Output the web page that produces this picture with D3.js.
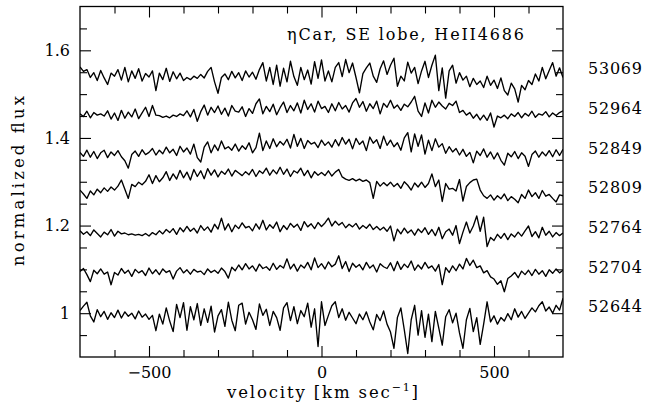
<!DOCTYPE html>
<html>
<head>
<meta charset="utf-8">
<script src="https://cdn.jsdelivr.net/npm/d3@7"></script>
<style>
  body { margin: 0; background: #fff; }
</style>
</head>
<body>
<div id="chart"></div>
<script>
// Spectra sampled every 10 km/s from -700 to 700 km/s
const velStart = -700
const velStep = 10

// Epoch (MJD) of each spectrum, top to bottom
const epochs = ["53069", "52964", "52849", "52809", "52764", "52704", "52644"]

const flux53069 = [
  1.562,1.552,1.556,1.538,1.549,1.531,1.554,1.537,1.522,1.548,
  1.541,1.556,1.532,1.561,1.528,1.553,1.536,1.558,1.530,1.547,
  1.539,1.553,1.508,1.548,1.533,1.559,1.529,1.551,1.535,1.548,
  1.531,1.538,1.533,1.541,1.536,1.545,1.537,1.552,1.561,1.528,
  1.502,1.538,1.546,1.533,1.552,1.537,1.549,1.531,1.553,1.539,
  1.550,1.534,1.556,1.572,1.530,1.561,1.522,1.566,1.518,1.559,
  1.528,1.575,1.540,1.520,1.561,1.533,1.555,1.523,1.574,1.536,
  1.578,1.530,1.553,1.528,1.561,1.572,1.540,1.579,1.549,1.571,
  1.538,1.503,1.547,1.560,1.571,1.541,1.527,1.558,1.576,1.545,
  1.566,1.582,1.518,1.541,1.530,1.573,1.548,1.561,1.524,1.553,
  1.575,1.538,1.566,1.589,1.508,1.560,1.491,1.553,1.566,1.525,
  1.549,1.532,1.541,1.517,1.536,1.522,1.530,1.515,1.541,1.520,
  1.532,1.513,1.537,1.508,1.498,1.525,1.512,1.482,1.520,1.510,
  1.531,1.522,1.546,1.530,1.561,1.535,1.554,1.572,1.541,1.560,
  1.538]

const flux52964 = [
  1.455,1.449,1.461,1.446,1.458,1.452,1.455,1.450,1.462,1.443,
  1.457,1.440,1.463,1.445,1.459,1.448,1.466,1.444,1.457,1.470,
  1.449,1.474,1.452,1.451,1.447,1.450,1.446,1.452,1.449,1.455,
  1.451,1.462,1.448,1.465,1.438,1.460,1.475,1.452,1.470,1.458,
  1.473,1.454,1.468,1.450,1.474,1.461,1.459,1.471,1.449,1.467,
  1.456,1.478,1.489,1.455,1.472,1.460,1.477,1.453,1.469,1.482,
  1.458,1.474,1.462,1.480,1.457,1.486,1.465,1.478,1.459,1.484,
  1.467,1.472,1.458,1.478,1.462,1.481,1.466,1.474,1.459,1.480,
  1.490,1.470,1.483,1.461,1.478,1.467,1.484,1.455,1.479,1.470,
  1.486,1.468,1.475,1.463,1.477,1.471,1.482,1.495,1.461,1.449,
  1.480,1.457,1.486,1.470,1.482,1.473,1.466,1.479,1.474,1.484,
  1.458,1.463,1.452,1.458,1.445,1.454,1.441,1.452,1.440,1.457,
  1.425,1.450,1.446,1.452,1.444,1.455,1.449,1.458,1.446,1.456,
  1.450,1.461,1.447,1.455,1.452,1.460,1.448,1.457,1.451,1.458,
  1.462]

const flux52849 = [
  1.367,1.358,1.372,1.356,1.369,1.353,1.366,1.372,1.355,1.368,
  1.360,1.371,1.357,1.348,1.331,1.362,1.370,1.358,1.373,1.362,
  1.367,1.376,1.361,1.372,1.364,1.379,1.366,1.374,1.360,1.381,
  1.368,1.377,1.363,1.386,1.355,1.345,1.379,1.391,1.366,1.384,
  1.371,1.393,1.375,1.380,1.372,1.386,1.370,1.382,1.374,1.389,
  1.366,1.378,1.411,1.371,1.393,1.376,1.398,1.380,1.392,1.384,
  1.397,1.377,1.408,1.381,1.399,1.376,1.394,1.386,1.390,1.378,
  1.395,1.383,1.391,1.379,1.396,1.382,1.401,1.386,1.397,1.375,
  1.399,1.385,1.393,1.371,1.402,1.388,1.396,1.376,1.404,1.383,
  1.395,1.380,1.389,1.372,1.400,1.412,1.368,1.409,1.381,1.407,
  1.363,1.395,1.371,1.398,1.379,1.387,1.365,1.380,1.368,1.376,
  1.361,1.374,1.358,1.367,1.343,1.370,1.360,1.375,1.356,1.368,
  1.352,1.366,1.349,1.338,1.365,1.357,1.369,1.353,1.366,1.358,
  1.335,1.362,1.370,1.356,1.368,1.359,1.371,1.357,1.373,1.360,
  1.374]

const flux52809 = [
  1.281,1.272,1.262,1.279,1.270,1.283,1.275,1.286,1.278,1.288,
  1.281,1.290,1.304,1.283,1.262,1.294,1.289,1.299,1.293,1.301,
  1.316,1.296,1.314,1.300,1.309,1.323,1.303,1.318,1.306,1.326,
  1.309,1.322,1.304,1.328,1.312,1.325,1.307,1.330,1.315,1.327,
  1.311,1.324,1.317,1.329,1.313,1.326,1.320,1.314,1.323,1.316,
  1.328,1.312,1.325,1.319,1.331,1.315,1.327,1.318,1.333,1.317,
  1.329,1.312,1.325,1.320,1.331,1.314,1.326,1.309,1.323,1.315,
  1.321,1.314,1.325,1.313,1.322,1.328,1.311,1.306,1.303,1.307,
  1.302,1.306,1.301,1.304,1.298,1.262,1.301,1.290,1.298,1.291,
  1.299,1.289,1.296,1.285,1.300,1.292,1.281,1.297,1.288,1.299,
  1.287,1.296,1.318,1.289,1.304,1.255,1.296,1.283,1.285,1.279,
  1.305,1.256,1.289,1.298,1.304,1.306,1.281,1.268,1.262,1.270,
  1.258,1.268,1.261,1.272,1.257,1.266,1.260,1.252,1.271,1.262,
  1.281,1.266,1.275,1.262,1.280,1.267,1.271,1.262,1.254,1.270,
  1.268]

const flux52764 = [
  1.188,1.180,1.186,1.177,1.190,1.182,1.174,1.185,1.179,1.191,
  1.176,1.187,1.181,1.183,1.179,1.181,1.178,1.180,1.177,1.182,
  1.176,1.184,1.179,1.188,1.181,1.191,1.184,1.193,1.180,1.195,
  1.186,1.198,1.187,1.194,1.183,1.200,1.189,1.197,1.185,1.203,
  1.192,1.217,1.190,1.204,1.186,1.201,1.193,1.206,1.195,1.198,
  1.188,1.204,1.192,1.212,1.190,1.202,1.194,1.208,1.186,1.200,
  1.191,1.205,1.196,1.203,1.189,1.209,1.197,1.204,1.193,1.207,
  1.198,1.206,1.217,1.199,1.210,1.201,1.207,1.195,1.203,1.197,
  1.205,1.192,1.200,1.194,1.203,1.191,1.198,1.190,1.196,1.187,
  1.199,1.165,1.192,1.181,1.194,1.183,1.190,1.178,1.192,1.184,
  1.195,1.180,1.191,1.177,1.196,1.170,1.186,1.192,1.178,1.200,
  1.159,1.185,1.208,1.183,1.199,1.222,1.187,1.219,1.152,1.173,
  1.166,1.180,1.171,1.182,1.168,1.181,1.174,1.185,1.176,1.188,
  1.199,1.175,1.186,1.172,1.196,1.178,1.187,1.174,1.184,1.177,
  1.183]

const flux52704 = [
  1.095,1.102,1.088,1.072,1.098,1.090,1.101,1.089,1.094,1.065,
  1.093,1.087,1.102,1.091,1.098,1.084,1.100,1.092,1.097,1.086,
  1.103,1.090,1.099,1.088,1.101,1.093,1.097,1.078,1.096,1.104,
  1.092,1.099,1.089,1.100,1.094,1.096,1.088,1.101,1.093,1.098,
  1.091,1.103,1.095,1.080,1.105,1.097,1.110,1.099,1.113,1.101,
  1.108,1.096,1.112,1.102,1.106,1.098,1.114,1.100,1.109,1.103,
  1.124,1.101,1.112,1.096,1.110,1.103,1.116,1.099,1.126,1.104,
  1.113,1.101,1.117,1.106,1.112,1.131,1.102,1.118,1.095,1.114,
  1.105,1.111,1.099,1.116,1.103,1.110,1.094,1.113,1.106,1.102,
  1.115,1.097,1.118,1.100,1.112,1.104,1.119,1.098,1.110,1.101,
  1.116,1.103,1.108,1.096,1.111,1.065,1.104,1.093,1.108,1.097,
  1.112,1.101,1.125,1.109,1.121,1.104,1.108,1.092,1.097,1.083,
  1.078,1.066,1.074,1.049,1.079,1.085,1.093,1.081,1.096,1.088,
  1.098,1.086,1.100,1.089,1.097,1.084,1.099,1.091,1.101,1.092,
  1.098]

const flux52644 = [
  1.006,1.016,1.025,0.994,0.980,1.008,0.992,1.004,0.986,1.001,
  0.990,1.007,0.989,1.003,0.993,1.000,0.987,1.005,0.991,0.998,
  0.986,0.995,0.960,0.998,0.975,1.012,0.982,0.958,1.020,0.990,
  1.024,0.961,1.015,0.985,1.022,0.972,1.010,0.979,1.016,0.957,
  0.994,1.008,0.970,1.025,0.984,0.960,1.018,1.023,0.975,1.002,
  0.985,0.963,1.021,0.995,1.009,0.972,1.004,0.990,0.961,1.012,
  1.024,0.983,1.015,0.976,1.006,0.992,1.023,0.968,1.010,0.924,
  1.026,0.972,0.995,1.017,1.026,0.990,1.010,0.984,1.002,0.989,
  0.976,0.998,0.985,1.003,0.980,0.962,0.997,0.983,1.005,0.975,
  0.957,0.920,0.990,1.012,0.962,0.908,0.985,1.018,0.950,1.006,
  0.945,0.998,0.935,1.004,0.966,0.927,0.992,1.008,0.978,1.000,
  0.955,0.920,0.985,1.011,0.958,0.990,0.929,0.975,1.026,0.980,
  0.994,0.975,0.990,0.982,0.999,0.985,1.010,0.991,1.004,0.988,
  1.000,1.012,1.003,1.017,1.026,1.005,1.014,1.000,1.018,1.007,
  1.034]

const spectra = [flux53069, flux52964, flux52849, flux52809, flux52764, flux52704, flux52644]

// Axis ticks
const xMajor = [-500, 0, 500]
const xMinor = [-600, -400, -300, -200, -100, 100, 200, 300, 400, 600]
const yMajor = [1, 1.2, 1.4, 1.6]
const yMinor = [0.95, 1.05, 1.1, 1.15, 1.25, 1.3, 1.35, 1.45, 1.5, 1.55, 1.65]

const titleText = "ηCar, SE lobe, HeII4686"

// Chart geometry
const W = 662, H = 409
const mLeft = 80, mRight = 563, mTop = 6.5, mBottom = 357
const font = "'DejaVu Serif', serif"

let svg = d3.select("#chart").append("svg")
    .attr("width", W)
    .attr("height", H)

let x = d3.scaleLinear().domain([-700, 700]).range([mLeft, mRight])
let y = d3.scaleLinear().domain([0.9, 1.7]).range([mBottom, mTop])

// Clip the spectra to the frame
svg.append("clipPath").attr("id", "frame")
    .append("rect")
    .attr("x", mLeft).attr("y", mTop)
    .attr("width", mRight - mLeft).attr("height", mBottom - mTop)

let line = d3.line()
    .x((d, i) => x(velStart + i * velStep))
    .y(d => y(d))

svg.append("g")
    .attr("clip-path", "url(#frame)")
    .selectAll("path")
    .data(spectra)
    .enter()
    .append("path")
    .attr("d", line)
    .attr("fill", "none")
    .attr("stroke", "#000")
    .attr("stroke-width", 1.35)
    .attr("stroke-linejoin", "round")

// Ticks on all four sides, pointing inward
function addAxis(axis, tx, ty, values, size, labels, fmt) {
    let g = svg.append("g")
        .attr("transform", `translate(${tx},${ty})`)
        .call(axis.tickValues(values).tickSize(-size).tickSizeOuter(0)
            .tickPadding(labels ? 10 : 0)
            .tickFormat(labels ? fmt : ""))
    g.select(".domain").remove()
    g.selectAll(".tick line").attr("stroke", "#000").attr("stroke-width", 1.1)
    g.selectAll("text")
        .attr("font-family", font)
        .attr("font-size", 16)
        .attr("fill", "#000")
    return g
}

let fx = d3.format("d")
let fy = d => String(d)

addAxis(d3.axisBottom(x), 0, mBottom, xMajor, 11, true, fx)
addAxis(d3.axisBottom(x), 0, mBottom, xMinor, 7, false)
addAxis(d3.axisTop(x), 0, mTop, xMajor, 11, false)
addAxis(d3.axisTop(x), 0, mTop, xMinor, 7, false)
addAxis(d3.axisLeft(y), mLeft, 0, yMajor, 11, true, fy)
addAxis(d3.axisLeft(y), mLeft, 0, yMinor, 7, false)
addAxis(d3.axisRight(y), mRight, 0, yMajor, 11, false)
addAxis(d3.axisRight(y), mRight, 0, yMinor, 7, false)

// Frame
svg.append("rect")
    .attr("x", mLeft).attr("y", mTop)
    .attr("width", mRight - mLeft).attr("height", mBottom - mTop)
    .attr("fill", "none")
    .attr("stroke", "#000")
    .attr("stroke-width", 1.3)

// Title inside the frame
svg.append("text")
    .attr("x", 287).attr("y", 40)
    .attr("font-family", font).attr("font-size", 16)
    .attr("textLength", 237).attr("lengthAdjust", "spacing")
    .text(titleText)

// Epoch labels to the right of the frame
svg.append("g")
    .selectAll("text")
    .data(epochs)
    .enter()
    .append("text")
    .attr("x", 588)
    .attr("y", (d, i) => y(1.558 - 0.0905 * i))
    .attr("dy", "0.36em")
    .attr("font-family", font)
    .attr("font-size", 16)
    .attr("textLength", 54).attr("lengthAdjust", "spacing")
    .text(d => d)

// Axis titles
let xt = svg.append("text")
    .attr("x", 227).attr("y", 398)
    .attr("font-family", font).attr("font-size", 16.5)
    .attr("textLength", 191).attr("lengthAdjust", "spacing")
xt.append("tspan").text("velocity [km sec")
xt.append("tspan").attr("dy", -7).attr("font-size", 11).text("−1")
xt.append("tspan").attr("dy", 7).text("]")

svg.append("text")
    .attr("transform", "translate(24,181) rotate(-90)")
    .attr("text-anchor", "middle")
    .attr("font-family", font).attr("font-size", 16.5)
    .attr("textLength", 170).attr("lengthAdjust", "spacing")
    .text("normalized flux")
</script>
</body>
</html>
